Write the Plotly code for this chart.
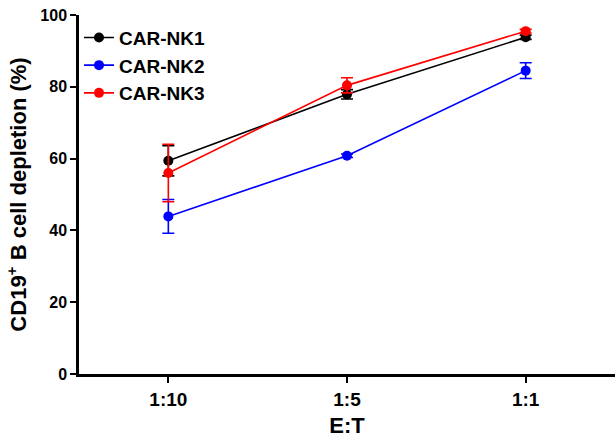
import plotly.graph_objects as go

categories = ["1:10", "1:5", "1:1"]
series_names = ["CAR-NK1", "CAR-NK2", "CAR-NK3"]
nk1_mean = [59.4, 77.9, 93.8]
nk1_err = [4.2, 1.3, 0.6]
nk2_mean = [43.9, 60.8, 84.5]
nk2_err = [4.7, 0.5, 2.2]
nk3_mean = [56.0, 80.4, 95.5]
nk3_err = [8.0, 2.1, 0.5]
colors = ["#000000", "#0000ff", "#ff0000"]
y_ticks = [0, 20, 40, 60, 80, 100]

FONT = "Arial, Liberation Sans, sans-serif"
fig = go.Figure()
for name, m, e, c in zip(series_names, [nk1_mean, nk2_mean, nk3_mean],
                         [nk1_err, nk2_err, nk3_err], colors):
    fig.add_trace(go.Scatter(
        x=categories, y=m, name=name, mode="lines+markers",
        line=dict(color=c, width=1.6),
        marker=dict(color=c, size=10),
        error_y=dict(type="data", array=e, visible=True, color=c,
                     thickness=1.6, width=6),
    ))

fig.update_layout(
    width=615, height=440,
    margin=dict(l=79, r=0, t=15, b=66),
    paper_bgcolor="white", plot_bgcolor="white",
    font=dict(family=FONT, color="black", size=16, weight="bold"),
    showlegend=True,
    legend=dict(x=0.0, y=0.99, xanchor="left", yanchor="top",
                font=dict(size=19, family=FONT, weight="bold"),
                bgcolor="rgba(0,0,0,0)", tracegroupgap=0, itemwidth=30),
    xaxis=dict(
        type="category", range=[-0.5, 2.5], automargin=False,
        showline=True, linecolor="black", linewidth=2.5,
        ticks="outside", ticklen=6, tickwidth=2, tickcolor="black",
        showgrid=False, zeroline=False,
        tickfont=dict(size=19, family=FONT, weight="bold"),
        title=dict(text="E:T", font=dict(size=22, family=FONT, weight="bold"), standoff=10),
    ),
    yaxis=dict(
        range=[0, 100], tickvals=y_ticks, automargin=False,
        showline=True, linecolor="black", linewidth=2.5,
        ticks="outside", ticklen=6, tickwidth=2, tickcolor="black",
        showgrid=False, zeroline=False,
        tickfont=dict(size=16, family=FONT, weight="bold"),
        title=dict(text="CD19<sup>+</sup> B cell depletion (%)",
                   font=dict(size=22, family=FONT, weight="bold"), standoff=8),
    ),
)

fig.write_html("out.html", config={"displayModeBar": False},
               post_script="document.body.style.margin='0';")
